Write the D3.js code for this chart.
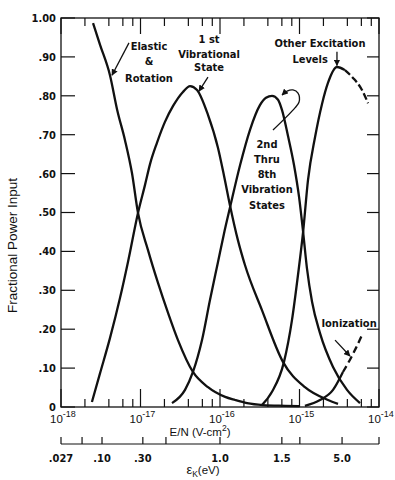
<!DOCTYPE html>
<html>
<head>
<meta charset="utf-8">
<script src="https://cdn.jsdelivr.net/npm/d3@7"></script>
<style>
  body { margin: 0; background: #fff; }
  text { fill: #111; }
  .lbl { font-family: "DejaVu Sans Condensed", "Liberation Sans", sans-serif; font-weight: bold; font-size: 11px; }
  .tick-lbl { font-family: "DejaVu Sans Condensed", "Liberation Sans", sans-serif; font-weight: bold; font-size: 11px; }
  .axis-lbl { font-family: "Liberation Sans", "DejaVu Sans", sans-serif; font-size: 11.5px; }
</style>
</head>
<body>
<svg id="chart" width="395" height="480"></svg>
<script>
// each point is [E/N (V-cm^2), fractional power input]
const elastic = [
  [2.53e-18, 0.987], [3.1e-18, 0.931], [4.13e-18, 0.853], [5.1e-18, 0.763],
  [6.38e-18, 0.686], [7.8e-18, 0.602], [9.3e-18, 0.499], [1.24e-17, 0.404],
  [1.66e-17, 0.319], [2.22e-17, 0.242], [2.96e-17, 0.172], [4.57e-17, 0.09],
  [7.06e-17, 0.051], [1.16e-16, 0.026], [1.55e-16, 0.018], [2.19e-16, 0.01],
  [3.48e-16, 0.005], [6.58e-16, 0.003], [1.0e-15, 0.002]
];
const vib1 = [
  [2.45e-18, 0.013], [3.1e-18, 0.087], [4.13e-18, 0.177], [5.52e-18, 0.28],
  [6.96e-18, 0.373], [9.3e-18, 0.499], [1.14e-17, 0.571], [1.32e-17, 0.625],
  [1.61e-17, 0.679], [2.03e-17, 0.733], [2.57e-17, 0.774], [3.42e-17, 0.81],
  [4.2e-17, 0.825], [5.14e-17, 0.815], [7.06e-17, 0.751], [9.44e-17, 0.666],
  [1.12e-16, 0.596], [1.34e-16, 0.517], [1.68e-16, 0.429], [2.06e-16, 0.365],
  [3.37e-16, 0.249], [6.19e-16, 0.116], [1.17e-15, 0.051], [2.28e-15, 0.018],
  [3.05e-15, 0.008]
];
const vib2to8 = [
  [2.49e-17, 0.01], [3.63e-17, 0.044], [4.57e-17, 0.09], [5.94e-17, 0.172],
  [7.48e-17, 0.275], [9.44e-17, 0.373], [1.12e-16, 0.445], [1.34e-16, 0.514],
  [1.79e-16, 0.622], [2.38e-16, 0.712], [3.18e-16, 0.776], [3.79e-16, 0.795],
  [4.51e-16, 0.80], [5.37e-16, 0.79], [6.03e-16, 0.763], [7.16e-16, 0.697],
  [8.53e-16, 0.622], [9.87e-16, 0.54], [1.11e-15, 0.45], [1.24e-15, 0.357],
  [1.44e-15, 0.27], [1.81e-15, 0.19], [2.64e-15, 0.103], [3.96e-15, 0.044],
  [5.77e-15, 0.01]
];
const otherSolid = [
  [3.37e-16, 0.005], [4.51e-16, 0.039], [6.38e-16, 0.116], [8.05e-16, 0.224],
  [9.58e-16, 0.34], [1.11e-15, 0.45], [1.28e-15, 0.584], [1.57e-15, 0.694],
  [1.92e-15, 0.779], [2.28e-15, 0.833], [2.96e-15, 0.874], [3.73e-15, 0.866]
];
const otherDashed = [
  [3.73e-15, 0.866], [4.71e-15, 0.846], [6.11e-15, 0.815], [7.28e-15, 0.781]
];
const ionSolid = [
  [1.17e-15, 0.003], [1.81e-15, 0.018], [2.64e-15, 0.044], [3.52e-15, 0.09]
];
const ionDashed = [
  [3.52e-15, 0.09], [4.3e-15, 0.121], [5.14e-15, 0.152], [6.11e-15, 0.185]
];

// axis ticks
const yTicks = [0, 0.1, 0.2, 0.3, 0.4, 0.5, 0.6, 0.7, 0.8, 0.9, 1.0];
const yTickLabels = ["0", ".10", ".20", ".30", ".40", ".50", ".60", ".70", ".80", ".90", "1.00"];
const xDecades = [1e-18, 1e-17, 1e-16, 1e-15, 1e-14];
const xDecadeExps = ["-18", "-17", "-16", "-15", "-14"];
const xMinorMults = [2, 4, 6, 8];
// mean electron energy scale, placed at the E/N it corresponds to
const ekTickEN = [1e-18, 1.84e-18, 3.28e-18, 1.07e-17, 2.09e-17, 1e-16, 6.0e-16, 1.01e-15, 3.43e-15, 1e-14];
const ekTickLabels = [".027", "", ".10", ".30", "", "1.0", "1.5", "", "5.0", ""];

let svg = d3.select("#chart");
let margin = {left: 61, top: 18, right: 16, bottom: 73};
let width = +svg.attr("width") - margin.left - margin.right;
let height = +svg.attr("height") - margin.top - margin.bottom;

let x = d3.scaleLog().domain([1e-18, 1e-14]).range([0, width]);
let y = d3.scaleLinear().domain([0, 1]).range([height, 0]);
let g = svg.append("g").attr("transform", `translate(${margin.left}, ${margin.top})`);

svg.append("defs").append("marker")
    .attr("id", "arrow")
    .attr("viewBox", "0 0 10 10")
    .attr("refX", 9).attr("refY", 5)
    .attr("markerWidth", 5).attr("markerHeight", 5)
    .attr("orient", "auto")
  .append("path")
    .attr("d", "M0,0L10,5L0,10z")
    .attr("fill", "#111");

// frame
g.append("rect")
    .attr("width", width).attr("height", height)
    .attr("fill", "none").attr("stroke", "#111").attr("stroke-width", 1.3);

// log ticks, bottom and top, pointing inward
let xTicks = [];
xDecades.forEach((d, i) => {
    xTicks.push({v: d, major: true});
    if (i < xDecades.length - 1) xMinorMults.forEach((m) => xTicks.push({v: d * m, major: false}));
});
g.selectAll(".xtick-b").data(xTicks).enter().append("line")
    .attr("x1", (d) => x(d.v)).attr("x2", (d) => x(d.v))
    .attr("y1", height).attr("y2", (d) => height - (d.major ? 18 : 8))
    .attr("stroke", "#111").attr("stroke-width", 1.2);
g.selectAll(".xtick-t").data(xTicks).enter().append("line")
    .attr("x1", (d) => x(d.v)).attr("x2", (d) => x(d.v))
    .attr("y1", 0).attr("y2", (d) => d.major ? 16 : 8)
    .attr("stroke", "#111").attr("stroke-width", 1.2);

// y ticks on both sides
g.selectAll(".ytick-l").data(yTicks).enter().append("line")
    .attr("x1", 0).attr("x2", 14)
    .attr("y1", (d) => y(d)).attr("y2", (d) => y(d))
    .attr("stroke", "#111").attr("stroke-width", 1.2);
g.selectAll(".ytick-r").data(yTicks).enter().append("line")
    .attr("x1", width).attr("x2", width - 12)
    .attr("y1", (d) => y(d)).attr("y2", (d) => y(d))
    .attr("stroke", "#111").attr("stroke-width", 1.2);
g.selectAll(".ylbl").data(yTicks).enter().append("text")
    .attr("class", "tick-lbl")
    .attr("x", -5).attr("y", (d) => y(d))
    .attr("dy", "0.36em")
    .attr("text-anchor", "end")
    .text((d, i) => yTickLabels[i]);

// decade labels 10^n
let decLbl = g.selectAll(".xlbl").data(xDecades).enter().append("text")
    .attr("class", "axis-lbl")
    .attr("x", (d) => x(d) - 11)
    .attr("y", height + 16);
decLbl.append("tspan").text("10");
decLbl.append("tspan").attr("dy", -6).attr("font-size", "9px").text((d, i) => xDecadeExps[i]);

let enLbl = g.append("text")
    .attr("class", "axis-lbl")
    .attr("x", 139).attr("y", height + 29)
    .attr("text-anchor", "middle");
enLbl.append("tspan").text("E/N (V-cm");
enLbl.append("tspan").attr("dy", -5).attr("font-size", "8.5px").text("2");
enLbl.append("tspan").attr("dy", 5).text(")");

// second scale: electron energy
let ek = g.append("g").attr("transform", `translate(0, ${height + 37})`);
ek.append("line")
    .attr("x1", x(1e-18)).attr("x2", x(1e-14))
    .attr("stroke", "#111").attr("stroke-width", 1.2);
ek.selectAll(".ektick").data(ekTickEN).enter().append("line")
    .attr("x1", (d) => x(d)).attr("x2", (d) => x(d))
    .attr("y1", 0).attr("y2", -7)
    .attr("stroke", "#111").attr("stroke-width", 1.2);
ek.selectAll(".eklbl").data(ekTickEN).enter().append("text")
    .attr("class", "tick-lbl")
    .attr("x", (d) => x(d)).attr("y", 18)
    .attr("text-anchor", "middle")
    .text((d, i) => ekTickLabels[i]);
let ekTitle = ek.append("text")
    .attr("class", "axis-lbl")
    .attr("x", 142).attr("y", 30)
    .attr("text-anchor", "middle");
ekTitle.append("tspan").attr("font-size", "13px").text("ε");
ekTitle.append("tspan").attr("dy", 3).attr("font-size", "8.5px").text("K");
ekTitle.append("tspan").attr("dy", -3).text("(eV)");

g.append("text")
    .attr("class", "axis-lbl")
    .style("font-size", "13.5px")
    .attr("transform", `translate(${-44}, ${y(0.415)}) rotate(-90)`)
    .attr("text-anchor", "middle")
    .text("Fractional Power Input");

// curves
let line = d3.line()
    .x((d) => x(d[0]))
    .y((d) => y(d[1]))
    .curve(d3.curveMonotoneX);

const curves = [
    {data: elastic, dash: null},
    {data: vib1, dash: null},
    {data: vib2to8, dash: null},
    {data: otherSolid, dash: null},
    {data: otherDashed, dash: "7,3"},
    {data: ionSolid, dash: null},
    {data: ionDashed, dash: "7,4"}
];
for (let c of curves) {
    g.append("path")
        .datum(c.data)
        .attr("fill", "none")
        .attr("stroke", "#111")
        .attr("stroke-width", 2.3)
        .attr("stroke-dasharray", c.dash)
        .attr("d", line);
}

// labels with leader arrows
const labels = [
    {lines: ["Elastic", "&", "Rotation"], en: 1.28e-17, fr: [0.918, 0.879, 0.835]},
    {lines: ["1 st", "Vibrational", "State"], en: 7.28e-17, fr: [0.936, 0.897, 0.864]},
    {lines: ["Other Excitation", "Levels"], en: [1.81e-15, 1.36e-15], fr: [0.925, 0.884]},
    {lines: ["2nd", "Thru", "8th", "Vibration", "States"], en: 3.9e-16, fr: [0.666, 0.627, 0.588, 0.55, 0.509]},
    {lines: ["Ionization"], en: 4.2e-15, fr: [0.206]}
];
for (let l of labels) {
    l.lines.forEach((t, i) => {
        let en = Array.isArray(l.en) ? l.en[i] : l.en;
        g.append("text")
            .attr("class", "lbl")
            .attr("x", x(en)).attr("y", y(l.fr[i]))
            .attr("text-anchor", "middle")
            .text(t);
    });
}

const leaders = [
    [[7.16e-18, 0.936], [4.38e-18, 0.853]],
    [[7.06e-17, 0.848], [5.44e-17, 0.812]],
    [[2.96e-15, 0.913], [2.96e-15, 0.878]],
    [[2.8e-15, 0.172], [4.31e-15, 0.131]]
];
let straight = d3.line().x((d) => x(d[0])).y((d) => y(d[1]));
for (let ld of leaders) {
    g.append("path")
        .datum(ld)
        .attr("fill", "none")
        .attr("stroke", "#111")
        .attr("stroke-width", 1.3)
        .attr("marker-end", "url(#arrow)")
        .attr("d", straight);
}
// curly leader for the 2nd-8th label
const loopLeader = [
    [4.64e-16, 0.712], [8.77e-16, 0.769], [9.87e-16, 0.784], [9.58e-16, 0.807],
    [8.28e-16, 0.815], [6.97e-16, 0.812], [6.03e-16, 0.802]
];
g.append("path")
    .datum(loopLeader)
    .attr("fill", "none")
    .attr("stroke", "#111")
    .attr("stroke-width", 1.3)
    .attr("marker-end", "url(#arrow)")
    .attr("d", straight.curve(d3.curveCatmullRom.alpha(0.5)));
</script>
</body>
</html>
